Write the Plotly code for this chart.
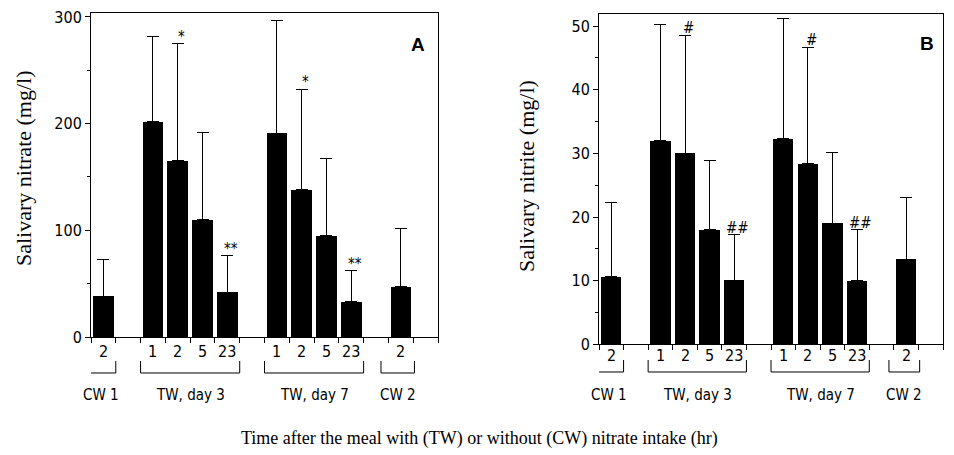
import plotly.graph_objects as go

# ---- data ----
groups = ["CW 1", "TW, day 3", "TW, day 7", "CW 2"]
group_times = [["2"], ["1", "2", "5", "23"], ["1", "2", "5", "23"], ["2"]]

nitrate_mean = [38, 202, 165, 110, 42, 191, 138, 95, 33, 47]
nitrate_upper = [73, 282, 275, 192, 76, 297, 232, 167, 62, 102]
nitrate_marks = ["", "", "*", "", "**", "", "*", "", "**", ""]

nitrite_mean = [10.6, 32.0, 30.0, 18.0, 10.1, 32.3, 28.4, 19.0, 10.0, 13.4]
nitrite_upper = [22.3, 50.3, 48.6, 28.9, 17.2, 51.2, 46.7, 30.1, 18.0, 23.0]
nitrite_marks = ["", "", "#", "", "##", "", "#", "", "##", ""]

# slot positions: one empty slot between groups
positions, spans, pos = [], [], 0
for g in group_times:
    start = pos
    for _ in g:
        positions.append(pos)
        pos += 1
    spans.append((start, pos - 1))
    pos += 1
n_slots = pos - 1
labels_flat = [t for g in group_times for t in g]

W, H = 954, 455
def py(px):
    return 1 - px / H

panels = [
    dict(mean=nitrate_mean, upper=nitrate_upper, marks=nitrate_marks,
         xdom=(91 / W, 438 / W), ydom=(py(337), py(13)), yrange=[0, 303.7],
         dtick=100, minor=50, title="Salivary nitrate (mg/l)", title_x=23, title_y=168,
         letter="A", letter_xy=(418, 45), num_y=351, br_top=361, br_bot=373, grp_y=395,
         br_pad_left=-0.72, cw2_pad=-0.8),
    dict(mean=nitrite_mean, upper=nitrite_upper, marks=nitrite_marks,
         xdom=(599 / W, 943 / W), ydom=(py(344.3), py(14)), yrange=[0, 51.9],
         dtick=10, minor=5, title="Salivary nitrite (mg/l)", title_x=527, title_y=176,
         letter="B", letter_xy=(927, 43), num_y=355, br_top=360, br_bot=372, grp_y=395,
         br_pad_left=-0.7, cw2_pad=-0.7),
]

sans = "Liberation Sans Narrow, DejaVu Sans Condensed, Arial Narrow, sans-serif"
serif = "Liberation Serif, Times New Roman, serif"

fig = go.Figure()
annotations, shapes = [], []
layout = {}
for i, p in enumerate(panels):
    xa = "x" if i == 0 else "x2"
    ya = "y" if i == 0 else "y2"
    xk = "xaxis" if i == 0 else "xaxis2"
    yk = "yaxis" if i == 0 else "yaxis2"
    fig.add_trace(go.Bar(
        x=positions, y=p["mean"], width=0.83, marker=dict(color="black", line=dict(width=0)),
        error_y=dict(type="data", symmetric=False,
                     array=[u - m for u, m in zip(p["upper"], p["mean"])],
                     arrayminus=[0] * len(p["mean"]), color="black", thickness=1, width=6),
        xaxis=xa, yaxis=ya, showlegend=False, hoverinfo="skip"))
    layout[xk] = dict(domain=list(p["xdom"]), range=[-0.5, n_slots + 0.5], anchor=ya,
                      showline=True, linecolor="black", linewidth=1, mirror=True,
                      tickvals=[k - 0.5 for k in range(n_slots + 2)], ticks="outside",
                      ticklen=5, tickcolor="black", showticklabels=False, showgrid=False,
                      zeroline=False, fixedrange=True, automargin=False)
    layout[yk] = dict(domain=list(p["ydom"]), range=p["yrange"], anchor=xa,
                      showline=True, linecolor="black", linewidth=1, mirror=True,
                      dtick=p["dtick"], tick0=0, ticks="outside", ticklen=5, tickcolor="black",
                      minor=dict(dtick=p["minor"], ticks="outside", ticklen=3, tickcolor="black"),
                      tickfont=dict(family=sans, size=16, color="black"),
                      showgrid=False, zeroline=False, fixedrange=True, automargin=False)
    # y-axis title
    annotations.append(dict(text=p["title"], x=p["title_x"] / W, y=py(p["title_y"]),
                            xref="paper", yref="paper", showarrow=False, textangle=-90,
                            xanchor="center", yanchor="middle",
                            font=dict(family=serif, size=22, color="black")))
    # panel letter
    annotations.append(dict(text="<b>%s</b>" % p["letter"], x=p["letter_xy"][0] / W,
                            y=py(p["letter_xy"][1]), xref="paper", yref="paper",
                            xanchor="center", yanchor="middle",
                            showarrow=False, font=dict(family="Liberation Sans, Arial, sans-serif",
                                                       size=19, color="black")))
    # significance marks
    for xpos, up, mk in zip(positions, p["upper"], p["marks"]):
        if mk:
            annotations.append(dict(text=mk, x=xpos + 0.15, y=up, xref=xa, yref=ya,
                                    showarrow=False, xanchor="center", yanchor="bottom", yshift=-4,
                                    font=dict(family=sans, size=15, color="black")))
    # time labels
    for xpos, lab in zip(positions, labels_flat):
        annotations.append(dict(text=lab, x=xpos, y=py(p["num_y"]), xref=xa, yref="paper",
                                xanchor="center", yanchor="middle",
                                showarrow=False, font=dict(family=sans, size=16, color="black")))
    # brackets + group labels
    for gi, (s, e) in enumerate(spans):
        x0 = s - 0.5
        x1 = e + 0.5
        if gi == 0:
            x0 = s + p["br_pad_left"]
        if gi == len(spans) - 1:
            x0 = s + p["cw2_pad"]
            x1 = e + 0.55
        yt, yb = py(p["br_top"]), py(p["br_bot"])
        shapes.append(dict(type="path", xref=xa, yref="paper",
                           path="M %f,%f L %f,%f L %f,%f L %f,%f" % (x0, yt, x0, yb, x1, yb, x1, yt),
                           line=dict(color="black", width=1)))
        annotations.append(dict(text=groups[gi], x=(x0 + x1) / 2, y=py(p["grp_y"]), xref=xa,
                                yref="paper", showarrow=False, xanchor="center", yanchor="middle",
                                font=dict(family=sans, size=15, color="black")))

annotations.append(dict(text="Time after the meal with (TW) or without (CW) nitrate intake (hr)",
                        x=479 / W, y=py(438), xref="paper", yref="paper", showarrow=False,
                        xanchor="center", yanchor="middle",
                        font=dict(family=serif, size=18, color="black")))

fig.update_layout(width=W, height=H, margin=dict(l=0, r=0, t=0, b=0, autoexpand=False),
                  paper_bgcolor="white", plot_bgcolor="white", bargap=0,
                  annotations=annotations, shapes=shapes, **layout)
fig.write_html("out.html", config={"displayModeBar": False})
